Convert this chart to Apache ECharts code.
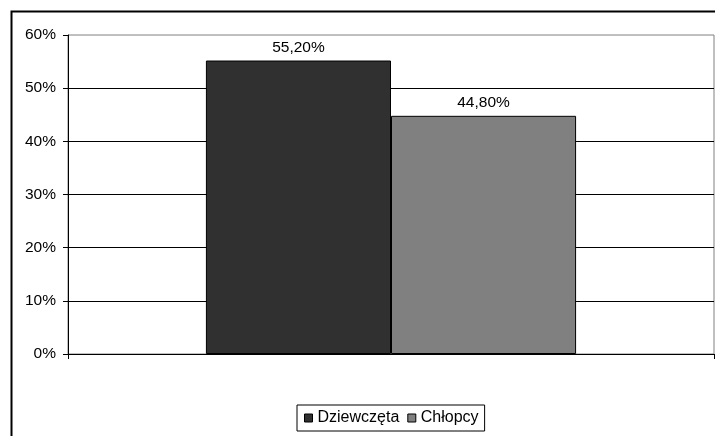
<!DOCTYPE html>
<html>
<head>
<meta charset="utf-8">
<script src="https://cdn.jsdelivr.net/npm/echarts@6/dist/echarts.min.js"></script>
<style>
  html, body { margin: 0; padding: 0; background: #fff; }
  #chart { width: 715px; height: 436px; }
</style>
</head>
<body>
<div id="chart"></div>
<script>
const seriesNames = ['Dziewczęta', 'Chłopcy'];
const seriesValues = [55.2, 44.8];
const seriesColors = ['#303030', '#808080'];
const categories = [''];
const yTicks = { min: 0, max: 60, interval: 10 };

const chart = echarts.init(document.getElementById('chart'));
const font = 'Liberation Sans, Arial, sans-serif';

chart.setOption({
    animation: false,
    textStyle: { fontFamily: font },
    graphic: [{
        type: 'rect',
        left: 9,
        top: 9,
        shape: { width: 800, height: 500 },
        style: { fill: 'none', stroke: '#000', lineWidth: 2 },
        z: 100
    }],
    grid: {
        left: 68,
        right: 1,
        top: 35,
        bottom: 82,
        show: true,
        borderColor: '#808080',
        borderWidth: 1,
        backgroundColor: 'transparent'
    },
    legend: {
        top: 405,
        left: 297,
        data: seriesNames,
        icon: 'rect',
        itemWidth: 8,
        itemHeight: 8,
        itemGap: 8,
        padding: [5, 6, 5, 7],
        borderColor: '#000',
        borderWidth: 1,
        textStyle: { fontSize: 16, color: '#000', fontFamily: font },
        itemStyle: { borderColor: '#000', borderWidth: 1 }
    },
    xAxis: {
        type: 'category',
        data: categories,
        axisLine: { lineStyle: { color: '#000', width: 1 } },
        axisTick: { show: true, length: 5, lineStyle: { color: '#000' } },
        axisLabel: { show: false },
        splitLine: { show: false }
    },
    yAxis: {
        type: 'value',
        min: yTicks.min,
        max: yTicks.max,
        interval: yTicks.interval,
        axisLine: { show: true, lineStyle: { color: '#000', width: 1 } },
        axisTick: { show: true, length: 5, lineStyle: { color: '#000' } },
        axisLabel: {
            formatter: '{value}%',
            fontSize: 15.5,
            color: '#000',
            margin: 12,
            fontFamily: font
        },
        splitLine: { show: true, showMaxLine: false, lineStyle: { color: '#000', width: 1 } }
    },
    series: seriesNames.map((name, i) => ({
        name: name,
        type: 'bar',
        data: [seriesValues[i]],
        barGap: '0%',
        barCategoryGap: '42.7%',
        itemStyle: { color: seriesColors[i], borderColor: '#000', borderWidth: 1 },
        label: {
            show: true,
            position: 'top',
            distance: 5,
            fontSize: 15.5,
            color: '#000',
            fontFamily: font,
            formatter: (p) => p.value.toFixed(2).replace('.', ',') + '%'
        }
    }))
});
</script>
</body>
</html>
